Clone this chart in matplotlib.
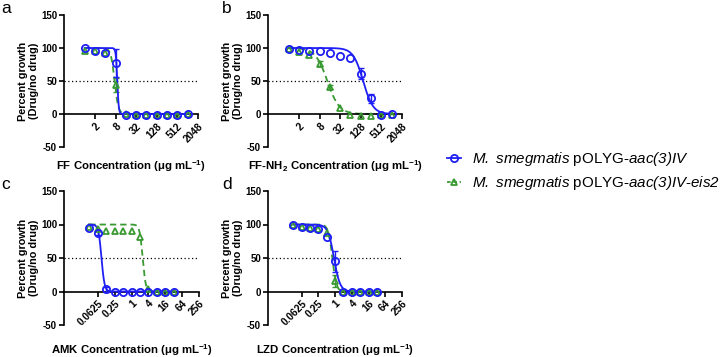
import numpy as np
import matplotlib
matplotlib.use("Agg")
import matplotlib.pyplot as plt
from matplotlib.lines import Line2D
from matplotlib.ticker import FixedLocator, NullLocator

plt.rcParams['font.family'] = 'Liberation Sans'
plt.rcParams['mathtext.fontset'] = 'custom'
plt.rcParams['mathtext.rm'] = 'Liberation Sans:italic'
plt.rcParams['mathtext.it'] = 'Liberation Sans:italic'
plt.rcParams['mathtext.bf'] = 'Liberation Sans:bold'
plt.rcParams['mathtext.default'] = 'regular'

BLUE = '#1f1ff5'
GREEN = '#3a9a32'

# ---- data ----
conc_ab = [1, 2, 4, 8, 16, 32, 64, 128, 256, 512, 1024]
conc_cd = [0.03125, 0.0625, 0.125, 0.25, 0.5, 1, 2, 4, 8, 16, 32]

ff_blue = [100, 96, 92, 77, -1, -1, -1.5, -1.5, -1, -1, 0]
ff_blue_err = [0, 0, 0, 21, 0, 0, 0, 0, 0, 0, 0]
ff_green = [95, 96, 93, 44, 0, -1, -1, -1, -1, -1, 0]
ff_green_err = [0, 0, 0, 11, 0, 0, 0, 0, 0, 0, 0]

nh2_blue = [99, 96.5, 96, 95, 92.5, 88.5, 85, 61, 24, -2, -0.5]
nh2_blue_err = [0, 0, 0, 0, 0, 0, 0, 8, 7, 0, 0]
nh2_green = [98.5, 94, 89, 76, 41, 8.5, -1.5, -2.5, -2.5, -2, -1]
nh2_green_err = [0, 0, 0, 4, 3, 0, 0, 0, 0, 0, 0]

amk_blue = [95, 87, 3, -1, -1, -1, -1, -1, -1, -1, -0.5]
amk_blue_err = [0, 3, 4, 0, 0, 0, 0, 0, 0, 0, 0]
amk_green = [96, 93, 91, 91, 91, 91, 82, 4, -1, -1, -1]
amk_green_err = [0, 0, 0, 0, 0, 0, 0, 0, 0, 0, 0]

lzd_blue = [100, 97, 95, 93, 82, 45, -1, -1, -1, -1, -1]
lzd_blue_err = [0, 0, 0, 0, 0, 16, 0, 0, 0, 0, 0]
lzd_green = [99, 97, 95, 93, 88, 15, -1, -1, -1, -1, -1]
lzd_green_err = [0, 0, 0, 0, 0, 9, 0, 0, 0, 0, 0]

# fitted dose-response parameters (IC50, Hill slope)
fit_ff = [(9.0, 20), (7.5, 8)]
fit_nh2 = [(150, 3), (13.5, 2.5)]
fit_amk = [(0.085, 8), (2.5, 8)]
fit_lzd = [(0.92, 4), (0.8, 6)]

ticks_ab = [2, 8, 32, 128, 512, 2048]
ticklabels_ab = ['2', '8', '32', '128', '512', '2048']
ticks_cd = [0.0625, 0.25, 1, 4, 16, 64, 256]
ticklabels_cd = ['0.0625', '0.25', '1', '4', '16', '64', '256']

xlabels = ['FF Concentration (μg mL$^{-1}$)',
           'FF-NH$_2$ Concentration (μg mL$^{-1}$)',
           'AMK Concentration (μg mL$^{-1}$)',
           'LZD Concentration (μg mL$^{-1}$)']
legend_labels = [r'$\mathrm{M.\ smegmatis}$ pOLYG-$\mathrm{aac(3)IV}$',
                 r'$\mathrm{M.\ smegmatis}$ pOLYG-$\mathrm{aac(3)IV}$-$\mathrm{eis2}$']

W, H = 722, 357
fig = plt.figure(figsize=(W / 100, H / 100), dpi=100)


def px_axes(x0, x1, ytop, ybot):
    return fig.add_axes([x0 / W, 1 - ybot / H, (x1 - x0) / W, (ybot - ytop) / H])


def hill(x, ic50, h):
    return 100.0 / (1.0 + (x / ic50) ** h)


def panel(ax, conc, blue, berr, green, gerr, fits, xlim, ticks, tlabels, xlabel, lab_y):
    conc = np.array(conc, dtype=float)
    for s in ['top', 'right']:
        ax.spines[s].set_visible(False)
    ax.spines['bottom'].set_position(('data', 0))
    for s in ['left', 'bottom']:
        ax.spines[s].set_linewidth(1.2)
    xs = np.geomspace(conc[0], conc[-1], 400)
    ax.plot(xs, hill(xs, *fits[1]), color=GREEN, lw=1.3, ls=(0, (3.5, 2.2)), zorder=2)
    ax.plot(xs, hill(xs, *fits[0]), color=BLUE, lw=1.3, zorder=3)
    ge = np.array(gerr, dtype=float)
    be = np.array(berr, dtype=float)
    m = ge > 0
    if m.any():
        ax.errorbar(conc[m], np.array(green)[m], yerr=ge[m], fmt='none', ecolor=GREEN,
                    elinewidth=1.0, capsize=2.5, capthick=1.0, zorder=2)
    m = be > 0
    if m.any():
        ax.errorbar(conc[m], np.array(blue)[m], yerr=be[m], fmt='none', ecolor=BLUE,
                    elinewidth=1.0, capsize=2.5, capthick=1.0, zorder=3)
    ax.plot(conc, green, ls='none', marker='^', ms=5, mfc='none', mec=GREEN, mew=1.3, zorder=4)
    ax.plot(conc, blue, ls='none', marker='o', ms=5.2, mfc='none', mec=BLUE, mew=1.3, zorder=5)
    ax.axhline(50, color='black', lw=0.9, ls=(0, (1, 2)), zorder=1)
    ax.set_xscale('log', base=2)
    ax.set_xlim(*xlim)
    ax.set_ylim(-50, 150)
    ax.tick_params(direction='out', length=3.5, width=1.2, pad=1.5)
    ax.xaxis.set_major_locator(FixedLocator(ticks))
    ax.xaxis.set_minor_locator(NullLocator())
    ax.set_xticklabels(tlabels, rotation=45, ha='right', rotation_mode='anchor',
                       fontsize=7.3, fontweight='bold')
    ax.set_yticks([-50, 0, 50, 100, 150])
    ax.set_yticklabels(['-50', '0', '50', '100', '150'], fontsize=7, fontweight='bold')
    ax.set_ylabel('Percent growth\n(Drug/no drug)', fontsize=7.8, fontweight='bold',
                  labelpad=1.5, linespacing=1.1)
    ax.set_xlabel(xlabel, fontsize=8.2, fontweight='bold')
    ax.xaxis.set_label_coords(0.5, lab_y)
    ax.patch.set_alpha(0)


ax_a = px_axes(64, 198, 15, 147)
ax_b = px_axes(268, 402, 15, 147)
ax_c = px_axes(64, 199, 191, 325)
ax_d = px_axes(268, 402, 191, 325)

panel(ax_a, conc_ab, ff_blue, ff_blue_err, ff_green, ff_green_err, fit_ff,
      (0.25, 2048), ticks_ab, ticklabels_ab, xlabels[0], -0.083)
panel(ax_b, conc_ab, nh2_blue, nh2_blue_err, nh2_green, nh2_green_err, fit_nh2,
      (0.25, 2048), ticks_ab, ticklabels_ab, xlabels[1], -0.083)
panel(ax_c, conc_cd, amk_blue, amk_blue_err, amk_green, amk_green_err, fit_amk,
      (2 ** -8, 256), ticks_cd, ticklabels_cd, xlabels[2], -0.125)
panel(ax_d, conc_cd, lzd_blue, lzd_blue_err, lzd_green, lzd_green_err, fit_lzd,
      (2 ** -8, 256), ticks_cd, ticklabels_cd, xlabels[3], -0.125)

for lab, (x, y) in zip('abcd', [(1, 1), (222, 1), (1, 177), (222, 177)]):
    fig.text(x / W, 1 - y / H, lab, fontsize=12.5, va='top', ha='left')

handles = [Line2D([], [], color=BLUE, lw=1.3, marker='o', ms=5.2, mfc='none', mec=BLUE, mew=1.3),
           Line2D([], [], color=GREEN, lw=1.3, ls=(0, (2, 1.5)), marker='^', ms=5, mfc='none',
                  mec=GREEN, mew=1.3)]
fig.legend(handles, legend_labels, loc='upper left', bbox_to_anchor=(447 / W, 1 - 150 / H),
           frameon=False, fontsize=10.9, handlelength=0.95, handletextpad=0.7, borderpad=0,
           borderaxespad=0, labelspacing=0.4)

fig.savefig('out.png', dpi=100)
